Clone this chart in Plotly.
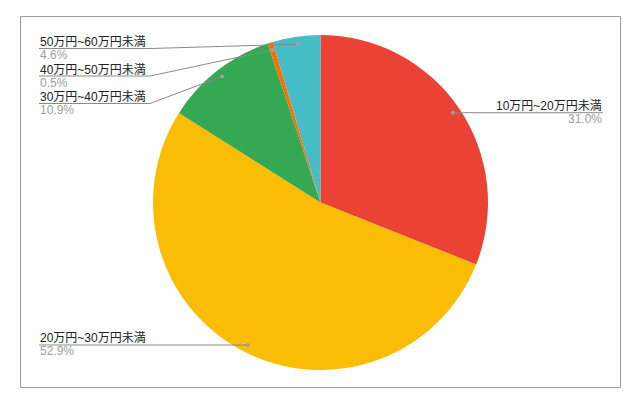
import math
import plotly.graph_objects as go

# ---- data ----
categories = ["10万円~20万円未満", "20万円~30万円未満", "30万円~40万円未満",
              "40万円~50万円未満", "50万円~60万円未満"]
values = [31.0, 52.9, 10.9, 0.5, 4.6]
pct_labels = ["31.0%", "52.9%", "10.9%", "0.5%", "4.6%"]
colors = ["#EA4335", "#FBBC04", "#34A853", "#FF6D01", "#46BDC6"]

# ---- layout constants (pixels) ----
W, H = 641, 407
CX, CY, R = 320.5, 202.5, 167.5
DOT_R = 0.955 * R
LEFT_X, RIGHT_X = 39, 603
LABEL_GAP = 27.5
LEFT_TOP_MIN = 48.5
TEXT_W = 111

def px(x):
    return x / W

def py(y):
    return 1 - y / H

fig = go.Figure()
fig.add_trace(go.Pie(
    labels=categories, values=values, sort=False, direction="clockwise",
    rotation=0, textinfo="none", hoverinfo="label+percent",
    marker=dict(colors=colors, line=dict(width=0)),
    domain=dict(x=[px(CX - R), px(CX + R)], y=[py(CY + R), py(CY - R)]),
    showlegend=False,
))

total = sum(values)
anchors = []
cum = 0.0
for i, v in enumerate(values):
    mid = (cum + v / 2) / total * 2 * math.pi
    cum += v
    dx = CX + DOT_R * math.sin(mid)
    dy = CY - DOT_R * math.cos(mid)
    anchors.append((i, dx, dy))

LINE_C = "#8a8a8a"
shapes = [dict(type="rect", xref="paper", yref="paper",
               x0=px(20.5), x1=px(620.5), y0=py(387.5), y1=py(16.5),
               line=dict(color="#9e9e9e", width=1))]
annotations = []

left = sorted([a for a in anchors if a[1] < CX], key=lambda a: a[2])
right = sorted([a for a in anchors if a[1] >= CX], key=lambda a: a[2])

def place(group, side):
    prev = None
    for i, dx, dy in group:
        ly = dy
        if side == "left" and prev is None:
            ly = max(ly, LEFT_TOP_MIN)
        if prev is not None:
            ly = max(ly, prev + LABEL_GAP)
        prev = ly
        if side == "left":
            end = min(LEFT_X + TEXT_W, dx)
            shapes.append(dict(type="line", xref="paper", yref="paper",
                               x0=px(LEFT_X), y0=py(ly), x1=px(end), y1=py(ly),
                               line=dict(color=LINE_C, width=1)))
            shapes.append(dict(type="line", xref="paper", yref="paper",
                               x0=px(end), y0=py(ly), x1=px(dx), y1=py(dy),
                               line=dict(color=LINE_C, width=1)))
            xa, anchor = LEFT_X, "left"
        else:
            start = max(RIGHT_X - TEXT_W, dx)
            shapes.append(dict(type="line", xref="paper", yref="paper",
                               x0=px(dx), y0=py(dy), x1=px(start), y1=py(ly),
                               line=dict(color=LINE_C, width=1)))
            shapes.append(dict(type="line", xref="paper", yref="paper",
                               x0=px(start), y0=py(ly), x1=px(RIGHT_X), y1=py(ly),
                               line=dict(color=LINE_C, width=1)))
            xa, anchor = RIGHT_X, "right"
        shapes.append(dict(type="circle", xref="paper", yref="paper",
                           x0=px(dx - 2), x1=px(dx + 2), y0=py(dy + 2), y1=py(dy - 2),
                           fillcolor="#a0a0a0", line=dict(width=0)))
        annotations.append(dict(x=px(xa), y=py(ly - 6.5), xref="paper", yref="paper",
                                text=categories[i], showarrow=False,
                                xanchor=anchor, yanchor="middle", borderpad=0,
                                font=dict(size=12, color="#222222")))
        annotations.append(dict(x=px(xa), y=py(ly + 6.5), xref="paper", yref="paper",
                                text=pct_labels[i], showarrow=False,
                                xanchor=anchor, yanchor="middle", borderpad=0,
                                font=dict(size=12, color="#9e9e9e")))

place(left, "left")
place(right, "right")

fig.update_layout(
    width=W, height=H, margin=dict(l=0, r=0, t=0, b=0),
    paper_bgcolor="white", plot_bgcolor="white",
    font=dict(family="Arial, 'Liberation Sans', 'Noto Sans CJK JP', sans-serif", size=12),
    shapes=shapes, annotations=annotations, showlegend=False,
)
fig.write_html("out.html", config={"displayModeBar": False},
               post_script="document.body.style.margin='0';document.body.style.padding='0';")
